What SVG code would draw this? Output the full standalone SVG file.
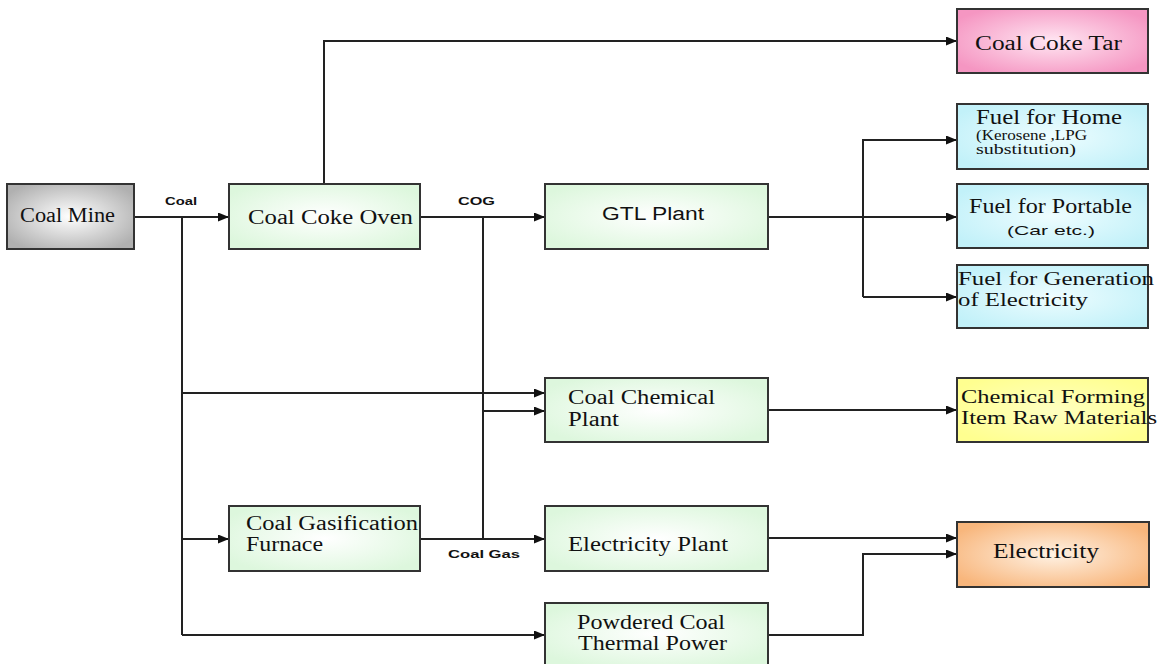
<svg xmlns="http://www.w3.org/2000/svg" width="1161" height="664" viewBox="0 0 1161 664">
<style>
.box{stroke:#333;stroke-width:2}
.c{fill:none;stroke:#222;stroke-width:2}
.s{font-family:"Liberation Serif","Times New Roman",serif;font-size:20px;fill:#111}
.ss{font-family:"Liberation Serif","Times New Roman",serif;font-size:15px;fill:#111}
.sm{font-family:"Liberation Serif","Times New Roman",serif;font-size:18px;fill:#111}
.g{font-family:"Liberation Sans",Arial,sans-serif;font-size:18px;fill:#111}
.l{font-family:"Liberation Sans",Arial,sans-serif;font-size:11px;font-weight:bold;fill:#111}
.n{font-family:"Liberation Sans",Arial,sans-serif;font-size:13px;fill:#111}
</style>
<defs>
<marker id="ah" markerWidth="11" markerHeight="9" refX="10" refY="4.5" orient="auto" markerUnits="userSpaceOnUse"><path d="M0,0 L11,4.5 L0,9 z" fill="#111"/></marker>
<radialGradient id="gGray" cx="50%" cy="50%" r="60%"><stop offset="0" stop-color="#ffffff"/><stop offset="1" stop-color="#b0b0b0"/></radialGradient>
<radialGradient id="gGreen" cx="50%" cy="50%" r="60%"><stop offset="0" stop-color="#ffffff"/><stop offset="1" stop-color="#ddf7dd"/></radialGradient>
<radialGradient id="gPink" cx="50%" cy="50%" r="60%"><stop offset="0" stop-color="#ffe6f2"/><stop offset="1" stop-color="#f596c2"/></radialGradient>
<radialGradient id="gCyan" cx="50%" cy="50%" r="60%"><stop offset="0" stop-color="#eefdff"/><stop offset="1" stop-color="#c2f1f9"/></radialGradient>
<radialGradient id="gYellow" cx="50%" cy="50%" r="60%"><stop offset="0" stop-color="#ffffc0"/><stop offset="1" stop-color="#ffff90"/></radialGradient>
<radialGradient id="gOrange" cx="50%" cy="50%" r="60%"><stop offset="0" stop-color="#fff2e4"/><stop offset="1" stop-color="#f8b67c"/></radialGradient>
</defs>
<rect width="1161" height="664" fill="#fff"/>
<g id="connectors">
<path class="c" d="M134,217 H228" marker-end="url(#ah)"/>
<path class="c" d="M182,217 V635"/>
<path class="c" d="M182,393 H544" marker-end="url(#ah)"/>
<path class="c" d="M182,539 H228" marker-end="url(#ah)"/>
<path class="c" d="M182,635 H544" marker-end="url(#ah)"/>
<path class="c" d="M324,184 V41 H956" marker-end="url(#ah)"/>
<path class="c" d="M420,217 H544" marker-end="url(#ah)"/>
<path class="c" d="M483,217 V539"/>
<path class="c" d="M483,411 H544" marker-end="url(#ah)"/>
<path class="c" d="M420,539 H544" marker-end="url(#ah)"/>
<path class="c" d="M768,217 H956" marker-end="url(#ah)"/>
<path class="c" d="M863,297 V140 H956" marker-end="url(#ah)"/>
<path class="c" d="M863,297 H956" marker-end="url(#ah)"/>
<path class="c" d="M768,410 H956" marker-end="url(#ah)"/>
<path class="c" d="M768,538 H956" marker-end="url(#ah)"/>
<path class="c" d="M768,635 H863 V554 H956" marker-end="url(#ah)"/>
<text class="l" x="165" y="205" textLength="32" lengthAdjust="spacingAndGlyphs">Coal</text>
<text class="l" x="458" y="205" textLength="37" lengthAdjust="spacingAndGlyphs">COG</text>
<text class="l" x="448" y="558" textLength="72" lengthAdjust="spacingAndGlyphs">Coal Gas</text>
</g>
<g id="coal-mine">
<rect class="box" x="7" y="184" width="127" height="65" fill="url(#gGray)"/>
<text class="s" x="20" y="222" textLength="95" lengthAdjust="spacingAndGlyphs">Coal Mine</text>
</g>
<g id="coal-coke-oven">
<rect class="box" x="229" y="184" width="191" height="65" fill="url(#gGreen)"/>
<text class="s" x="248" y="224" textLength="165" lengthAdjust="spacingAndGlyphs">Coal Coke Oven</text>
</g>
<g id="gtl-plant">
<rect class="box" x="545" y="184" width="223" height="65" fill="url(#gGreen)"/>
<text class="g" x="602" y="220" textLength="102" lengthAdjust="spacingAndGlyphs">GTL Plant</text>
</g>
<g id="coal-coke-tar">
<rect class="box" x="957" y="9" width="191" height="64" fill="url(#gPink)"/>
<text class="s" x="975" y="50" textLength="147" lengthAdjust="spacingAndGlyphs">Coal Coke Tar</text>
</g>
<g id="fuel-home">
<rect class="box" x="957" y="104" width="191" height="65" fill="url(#gCyan)"/>
<text class="s" x="976" y="124" textLength="146" lengthAdjust="spacingAndGlyphs">Fuel for Home</text>
<text class="ss" x="976" y="140" textLength="111" lengthAdjust="spacingAndGlyphs">(Kerosene ,LPG</text>
<text class="ss" x="976" y="154" textLength="100" lengthAdjust="spacingAndGlyphs">substitution)</text>
</g>
<g id="fuel-portable">
<rect class="box" x="957" y="184" width="191" height="64" fill="url(#gCyan)"/>
<text class="s" x="969" y="213" textLength="163" lengthAdjust="spacingAndGlyphs">Fuel for Portable</text>
<text class="n" x="1007" y="235" textLength="88" lengthAdjust="spacingAndGlyphs">(Car etc.)</text>
</g>
<g id="fuel-generation">
<rect class="box" x="957" y="265" width="191" height="63" fill="url(#gCyan)"/>
<text class="sm" x="958" y="285" textLength="196" lengthAdjust="spacingAndGlyphs">Fuel for Generation</text>
<text class="sm" x="958" y="306" textLength="130" lengthAdjust="spacingAndGlyphs">of Electricity</text>
</g>
<g id="coal-chemical-plant">
<rect class="box" x="545" y="378" width="223" height="64" fill="url(#gGreen)"/>
<text class="s" x="568" y="404" textLength="147" lengthAdjust="spacingAndGlyphs">Coal Chemical</text>
<text class="s" x="568" y="426" textLength="51" lengthAdjust="spacingAndGlyphs">Plant</text>
</g>
<g id="chemical-forming">
<rect class="box" x="957" y="378" width="191" height="64" fill="url(#gYellow)"/>
<text class="sm" x="961" y="403" textLength="184" lengthAdjust="spacingAndGlyphs">Chemical Forming</text>
<text class="sm" x="961" y="424" textLength="196" lengthAdjust="spacingAndGlyphs">Item Raw Materials</text>
</g>
<g id="coal-gasification-furnace">
<rect class="box" x="229" y="506" width="191" height="65" fill="url(#gGreen)"/>
<text class="s" x="246" y="530" textLength="172" lengthAdjust="spacingAndGlyphs">Coal Gasification</text>
<text class="s" x="246" y="551" textLength="77" lengthAdjust="spacingAndGlyphs">Furnace</text>
</g>
<g id="electricity-plant">
<rect class="box" x="545" y="506" width="223" height="65" fill="url(#gGreen)"/>
<text class="s" x="568" y="551" textLength="160" lengthAdjust="spacingAndGlyphs">Electricity Plant</text>
</g>
<g id="powdered-coal">
<rect class="box" x="545" y="603" width="223" height="62" fill="url(#gGreen)"/>
<text class="s" x="577" y="629" textLength="148" lengthAdjust="spacingAndGlyphs">Powdered Coal</text>
<text class="s" x="578" y="650" textLength="149" lengthAdjust="spacingAndGlyphs">Thermal Power</text>
</g>
<g id="electricity">
<rect class="box" x="957" y="522" width="192" height="65" fill="url(#gOrange)"/>
<text class="s" x="993" y="558" textLength="106" lengthAdjust="spacingAndGlyphs">Electricity</text>
</g>
</svg>
